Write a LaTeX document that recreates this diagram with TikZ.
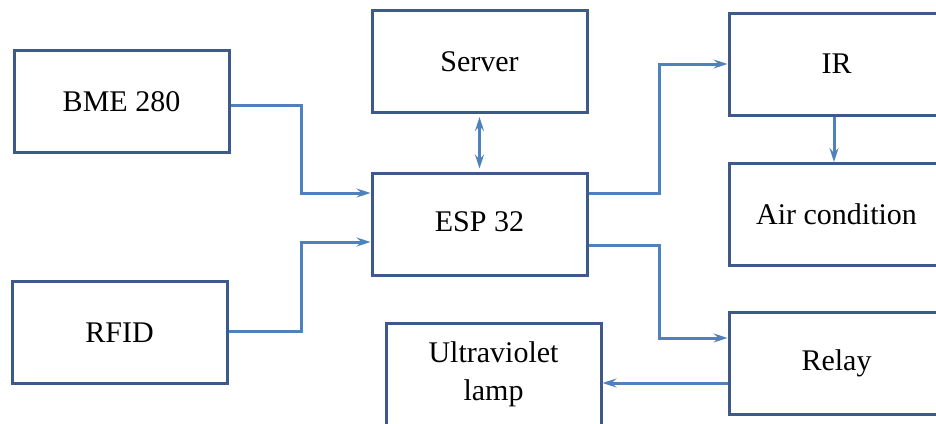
\documentclass[tikz,border=0pt]{standalone}
\usepackage{fontspec}
\setmainfont{Liberation Serif}
\usetikzlibrary{arrows.meta}
\definecolor{boxblue}{RGB}{61,90,138}
\definecolor{lineblue}{RGB}{79,129,189}

\begin{document}
\begin{tikzpicture}[x=1pt,y=-1pt,
  block/.style={draw=boxblue,line width=3pt,rectangle,minimum width=215pt,minimum height=102pt,
    font=\fontsize{30}{38}\selectfont,align=center},
  link/.style={draw=lineblue,line width=3pt,-{Stealth[length=14pt,width=9pt,inset=5pt]}}]
  \useasboundingbox (0,0) rectangle (936,423);
  \clip (0,0) rectangle (936,423);
  \fill[white] (0,0) rectangle (936,423);
  \node[block] (bme) at (121.5,101.5) {BME 280};
  \node[block] (rfid) at (119.5,332.5) {RFID};
  \node[block] (server) at (479.5,61.5) {Server};
  \node[block] (esp) at (479.5,224) {\raisebox{5pt}{ESP 32}};
  \node[block] (uv) at (493.5,374.5) {Ultraviolet\\lamp};
  \node[block] (ir) at (836.5,64) {IR};
  \node[block] (air) at (836.5,214.5) {Air condition};
  \node[block] (relay) at (836.5,363) {Relay};
  \coordinate (rl) at ([yshift=-20pt]relay.west);
  \draw[link] ([yshift=-3.5pt]bme.east) -- ++(71,0) |- ([yshift=31pt]esp.west);
  \draw[link] ([yshift=1.5pt]rfid.east) -- ++(73,0) |- ([yshift=-18pt]esp.west);
  \draw[link,{Stealth[length=14pt,width=9pt,inset=5pt]}-{Stealth[length=14pt,width=9pt,inset=5pt]}]
    ([yshift=-3pt]server.south) -- ([yshift=3pt]esp.north);
  \draw[link] ([yshift=31pt]esp.east) -- ++(71,0) |- (ir.west);
  \draw[link] ([yshift=-21pt]esp.east) -- ++(71,0) |- ([yshift=25pt]relay.west);
  \draw[link] ([xshift=-2.5pt]ir.south) -- ([xshift=-2.5pt]air.north);
  \draw[link] (rl) -- (rl -| uv.east);
\end{tikzpicture}
\end{document}
